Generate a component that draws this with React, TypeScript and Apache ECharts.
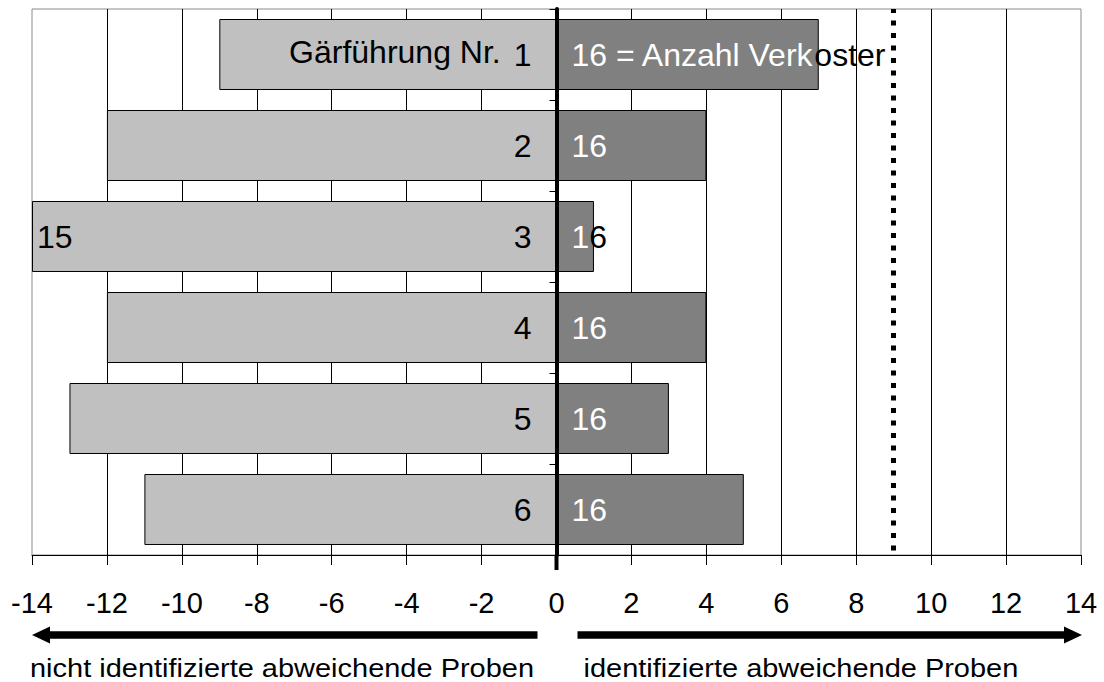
import React, { useEffect, useRef } from 'react';
import * as echarts from 'echarts';

// ---- data ----
const categories = ['1', '2', '3', '4', '5', '6'];
const notIdentified = [-9, -12, -14, -12, -13, -11];
const identified = [7, 4, 1, 4, 3, 5];
const leftPrefix = ['Gärführung Nr.', '', '', '', '', ''];
const leftOuterLabels = ['', '', '15', '', '', ''];
const rightLabels = ['16 = Anzahl Verkoster', '16', '16', '16', '16', '16'];
const threshold = 9;
const xMin = -14;
const xMax = 14;
const xInterval = 2;
const titleLeft = 'nicht identifizierte abweichende Proben';
const titleRight = 'identifizierte abweichende Proben';

const FONT = '"Liberation Sans", Arial, Helvetica, sans-serif';
const LABEL_SIZE = 32;
const TICK_SIZE = 29;
const TITLE_SIZE = 26;

// split a label into the part drawn inside the bar (white) and the part outside (black)
function splitByWidth(ctx: CanvasRenderingContext2D, text: string, start: number, end: number) {
  let i = 0;
  for (; i < text.length; i++) {
    const before = ctx.measureText(text.slice(0, i)).width;
    const after = ctx.measureText(text.slice(0, i + 1)).width;
    if (start + (before + after) / 2 > end) break;
  }
  return [text.slice(0, i), text.slice(i)];
}

export default function App() {
  const ref = useRef<HTMLDivElement>(null);
  useEffect(() => {
    document.body.style.margin = '0';
    if (!ref.current) return;
    const chart = echarts.init(ref.current, null, { renderer: 'svg' });
    const RIGHT_DIST = 15;

    const baseOption: any = {
      animation: false,
      backgroundColor: '#ffffff',
      textStyle: { fontFamily: FONT },
      grid: {
        left: 32,
        right: 23,
        top: 9,
        bottom: 127,
        show: true,
        borderColor: '#8a8a8a',
        borderWidth: 1,
        backgroundColor: '#ffffff',
        containLabel: false,
      },
      xAxis: {
        type: 'value',
        min: xMin,
        max: xMax,
        interval: xInterval,
        axisLine: { show: true, onZero: false, lineStyle: { color: '#000', width: 1 } },
        axisTick: { show: true, length: 10, inside: false, lineStyle: { color: '#000', width: 1 } },
        axisLabel: { fontSize: TICK_SIZE, color: '#000', margin: 33, fontFamily: FONT },
        splitLine: { show: true, showMinLine: false, showMaxLine: false, lineStyle: { color: '#000', width: 1 } },
      },
      yAxis: {
        type: 'category',
        inverse: true,
        z: 10,
        data: categories,
        axisLine: { show: true, onZero: true, lineStyle: { color: '#000', width: 4 } },
        axisTick: { show: true, length: 7, lineStyle: { color: '#000', width: 1 } },
        axisLabel: { show: false },
        splitLine: { show: false },
      },
      series: [
        {
          name: 'nicht identifiziert',
          type: 'bar',
          data: notIdentified,
          barGap: '-100%',
          barCategoryGap: '22%',
          itemStyle: { color: '#c0c0c0', borderColor: '#000', borderWidth: 1 },
          label: {
            show: true,
            position: 'insideRight',
            distance: 25,
            fontFamily: FONT,
            formatter: (p: any) => {
              const i = p.dataIndex;
              return leftPrefix[i]
                ? `{a|${leftPrefix[i]}}{n|${categories[i]}}`
                : `{n|${categories[i]}}`;
            },
            rich: {
              a: { fontSize: LABEL_SIZE, color: '#000', fontFamily: FONT, padding: [0, 13, 6, 0] },
              n: { fontSize: LABEL_SIZE, color: '#000', fontFamily: FONT },
            },
          },
        },
        {
          name: 'annotation',
          type: 'bar',
          silent: true,
          data: notIdentified.map((v, i) => (leftOuterLabels[i] ? v : null)),
          barGap: '-100%',
          barCategoryGap: '22%',
          itemStyle: { color: 'rgba(0,0,0,0)', borderWidth: 0 },
          label: {
            show: true,
            position: 'insideLeft',
            distance: 5,
            fontSize: LABEL_SIZE,
            color: '#000',
            fontFamily: FONT,
            formatter: (p: any) => leftOuterLabels[p.dataIndex] || '',
          },
        },
        {
          name: 'identifiziert',
          type: 'bar',
          data: identified,
          barGap: '-100%',
          barCategoryGap: '22%',
          itemStyle: { color: '#808080', borderColor: '#000', borderWidth: 1 },
          label: {
            show: true,
            position: 'insideLeft',
            distance: RIGHT_DIST,
            fontSize: LABEL_SIZE,
            color: '#fff',
            fontFamily: FONT,
            formatter: (p: any) => rightLabels[p.dataIndex],
          },
          markLine: {
            silent: true,
            symbol: ['none', 'none'],
            label: { show: false },
            lineStyle: { color: '#000', width: 5, type: [5, 7.5], dashOffset: 1 },
            data: [{ xAxis: threshold }],
          },
        },
      ],
    };
    chart.setOption(baseOption);

    const px = (v: number) => chart.convertToPixel({ xAxisIndex: 0 }, v) as number;
    const x0 = px(0);
    const canvas = document.createElement('canvas');
    const ctx = canvas.getContext('2d') as CanvasRenderingContext2D;
    ctx.font = `${LABEL_SIZE}px ${FONT}`;
    const richRight = rightLabels.map((t, i) => {
      const [w, b] = splitByWidth(ctx, t, x0 + RIGHT_DIST, px(identified[i]));
      return (w ? `{w|${w}}` : '') + (b ? `{b|${b}}` : '');
    });

    const bottomY = 555;
    const arrowY = 635;
    const leftTip = px(xMin);
    const leftEnd = x0 - 19;
    const rightStart = x0 + 21;
    const rightTip = px(xMax) + 1;
    const headL = 18;
    const headH = 8.5;
    const shaft = 7.5;

    chart.setOption({
      series: [
        {},
        {},
        {
          label: {
            formatter: (p: any) => richRight[p.dataIndex],
            rich: {
              w: { fontSize: LABEL_SIZE, color: '#fff', fontFamily: FONT },
              b: { fontSize: LABEL_SIZE, color: '#000', fontFamily: FONT },
            },
          },
        },
      ],
      graphic: [
        { type: 'line', z: 20, shape: { x1: x0, y1: bottomY, x2: x0, y2: bottomY + 15 }, style: { stroke: '#000', lineWidth: 4 } },
        { type: 'rect', shape: { x: leftTip + headL - 1, y: arrowY - shaft / 2, width: leftEnd - leftTip - headL + 1, height: shaft }, style: { fill: '#000' } },
        { type: 'polygon', shape: { points: [[leftTip, arrowY], [leftTip + headL, arrowY - headH], [leftTip + headL, arrowY + headH]] }, style: { fill: '#000' } },
        { type: 'rect', shape: { x: rightStart, y: arrowY - shaft / 2, width: rightTip - headL + 1 - rightStart, height: shaft }, style: { fill: '#000' } },
        { type: 'polygon', shape: { points: [[rightTip, arrowY], [rightTip - headL, arrowY - headH], [rightTip - headL, arrowY + headH]] }, style: { fill: '#000' } },
        { type: 'text', x: leftTip - 2, y: 668, scaleX: 1.115, style: { text: titleLeft, fontSize: TITLE_SIZE, fontFamily: FONT, fill: '#000', align: 'left', verticalAlign: 'middle' } },
        { type: 'text', x: rightStart + 6, y: 668, scaleX: 1.115, style: { text: titleRight, fontSize: TITLE_SIZE, fontFamily: FONT, fill: '#000', align: 'left', verticalAlign: 'middle' } },
      ],
    });

    return () => chart.dispose();
  }, []);
  return <div ref={ref} style={{ width: 1104, height: 682 }} />;
}
